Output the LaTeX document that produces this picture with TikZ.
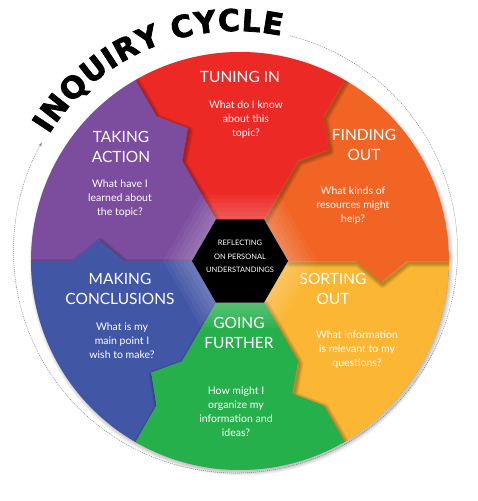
\documentclass[tikz,border=0pt]{standalone}
\usepackage{fontspec}
\setmainfont{Lato}
\newfontfamily\headfont{DejaVu Sans}[BoldFeatures={FakeBold=2.5}]
\usetikzlibrary{arrows.meta, decorations.text}

\definecolor{redc}{RGB}{237,41,37}
\definecolor{orangec}{RGB}{241,100,36}
\definecolor{yellowc}{RGB}{251,182,52}
\definecolor{greenc}{RGB}{38,176,76}
\definecolor{bluec}{RGB}{66,86,166}
\definecolor{purplec}{RGB}{124,76,158}

% one wedge of the wheel, with its tooth on the clockwise edge
\newcommand{\wedgepath}[1]{(#1:48) -- (#1:116) -- (#1-8.5:142.6) -- (#1:167) -- (#1:209)
  arc[start angle=#1, end angle=#1+60, radius=209]
  -- (#1+60:167) -- (#1+51.5:142.6) -- (#1+60:116) -- (#1+60:48) -- cycle}

\tikzset{
  title/.style={white, align=center, font=\fontsize{15.5}{20}\selectfont},
  question/.style={white, align=center, font=\fontsize{10.5}{14}\selectfont},
}

\begin{document}
\begin{tikzpicture}[x=1pt, y=1pt]
    \useasboundingbox (-240,-240) rectangle (237,261);
    \coordinate (c) at (0,0);
    \coordinate (dc) at (-4.5,10);

    % soft shadow under the wheel
    \foreach \w in {1,...,5}
      \fill[black, opacity=.05] (1.5,-2.5) circle (207+\w);

    % the six wedges
    \begin{scope}
      \clip (c) circle (209);
      \foreach \a/\col in {-60/yellowc, 0/orangec, 60/redc, 120/purplec, 180/bluec, 240/greenc} {
        \foreach \w in {2,4,6,8}
          \draw[black, opacity=.07, line width=\w, line join=round, shift={(1.5,-2)}] \wedgepath{\a};
        \fill[\col] \wedgepath{\a};
      }
    \end{scope}

    % light round the centre and the centre hexagon
    \foreach \r in {52,57,...,77}
      \fill[white, opacity=.045] (0:\r) -- (60:\r) -- (120:\r) -- (180:\r) -- (240:\r) -- (300:\r) -- cycle;
    \fill[black] (0:48) -- (60:48) -- (120:48) -- (180:48) -- (240:48) -- (300:48) -- cycle;
    \node[white, align=center, font=\fontsize{7.5}{13.5}\selectfont] (reflect) at (0,4.5)
      {REFLECTING\\ON PERSONAL\\UNDERSTANDINGS};

    % stage titles and questions
    \node[title] (tuning) at (0,184) {TUNING IN};
    \node[question] (tuningq) at (6,141) {What do I know\\about this\\topic?};

    \node[title] (finding) at (124,116) {FINDING\\OUT};
    \node[question] (findingq) at (113,55) {What kinds of\\resources might\\help?};

    \node[title] (sorting) at (93,-28) {SORTING\\OUT};
    \node[question] (sortingq) at (117,-89) {What information\\is relevant to my\\questions?};

    \node[title] (going) at (-1,-72) {GOING\\FURTHER};
    \node[question] (goingq) at (-4,-150.5) {How might I\\organize my\\information and\\ideas?};

    \node[title] (making) at (-120,-27.5) {MAKING\\CONCLUSIONS};
    \node[question] (makingq) at (-118,-79.5) {What is my\\main point I\\wish to make?};

    \node[title] (taking) at (-119,114.5) {TAKING\\ACTION};
    \node[question] (takingq) at (-120,62) {What have I\\learned about\\the topic?};

    % dotted cycle arrow and the curved heading
    \draw[gray, line width=.5pt, dash pattern=on 1pt off 1pt, -{Stealth[length=4pt, width=3pt]}]
      (dc) ++(75.8:222) arc[start angle=75.8, end angle=-209.2, radius=222];
    \path[decorate, decoration={text along path, text align=fit to path,
        text={|\headfont\bfseries\fontsize{30}{30}\selectfont|INQUIRY CYCLE}}]
      (dc) ++(148:220) arc[start angle=148, end angle=78, radius=220];
\end{tikzpicture}
\end{document}
